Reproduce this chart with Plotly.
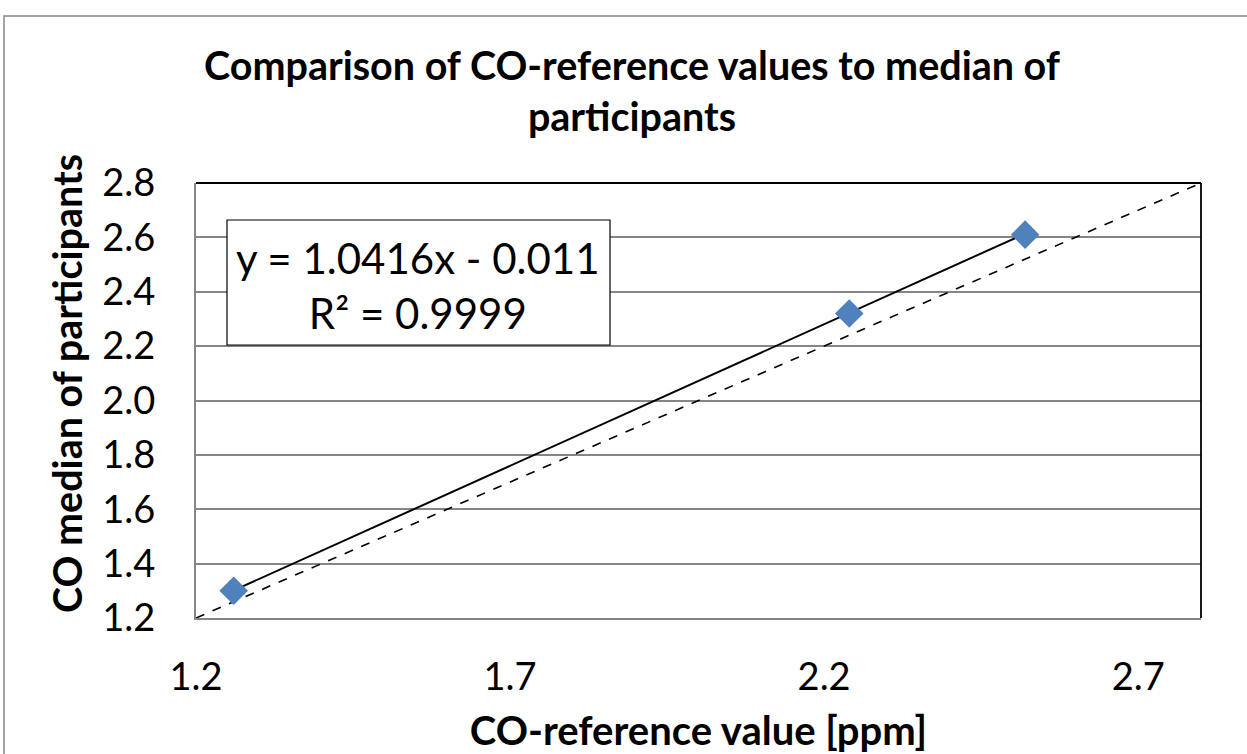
import plotly.graph_objects as go

# Data
ref_values = [1.26, 2.24, 2.52]        # CO-reference value [ppm]
median_values = [1.30, 2.32, 2.61]     # CO median of participants
fit_slope = 1.0416
fit_intercept = -0.011
fit_r2 = 0.9999
identity_line = [1.2, 2.8]
x_ticks = [1.2, 1.7, 2.2, 2.7]
y_ticks = [1.2, 1.4, 1.6, 1.8, 2.0, 2.2, 2.4, 2.6, 2.8]

W, H = 1247, 754
L, R, T, B = 196, 46, 183, 136
PW, PH = W - L - R, H - T - B

fit_x = [min(ref_values), max(ref_values)]
fit_y = [fit_slope * v + fit_intercept for v in fit_x]

fig = go.Figure()
fig.add_trace(go.Scatter(x=identity_line, y=identity_line, mode="lines",
                         line=dict(color="black", width=1.6, dash="dash"),
                         hoverinfo="skip", showlegend=False))
fig.add_trace(go.Scatter(x=fit_x, y=fit_y, mode="lines",
                         line=dict(color="black", width=2),
                         hoverinfo="skip", showlegend=False))
fig.add_trace(go.Scatter(x=ref_values, y=median_values, mode="markers",
                         marker=dict(symbol="diamond", size=22, color="#4F81BD",
                                     line=dict(width=0)),
                         showlegend=False))

font_family = "Lato, 'Open Sans', sans-serif"

fig.update_layout(
    width=W, height=H,
    margin=dict(l=L, r=R, t=T, b=B, autoexpand=False),
    paper_bgcolor="white", plot_bgcolor="white",
    font=dict(family=font_family, color="black"),
    title=dict(text="<b>Comparison of CO-reference values to median of<br>participants</b>",
               x=632 / W, xanchor="center",
               y=1 - 80 / H, yanchor="top", automargin=False,
               font=dict(size=39.5, family=font_family, color="black")),
    xaxis=dict(range=[1.2, 2.8], tickvals=x_ticks, ticktext=[f"{v:.1f}" for v in x_ticks],
               showgrid=False, zeroline=False, showline=True, linecolor="#868686",
               linewidth=2, ticks="", tickfont=dict(size=38), ticklabelstandoff=24,
               automargin=False,
               title=dict(text="<b>CO-reference value [ppm]</b>", font=dict(size=40), standoff=22)),
    yaxis=dict(range=[1.2, 2.8], tickvals=y_ticks, ticktext=[f"{v:.1f}" for v in y_ticks],
               showgrid=True, gridcolor="#868686", gridwidth=1.5, zeroline=False,
               showline=True, linecolor="#868686", linewidth=2, ticks="",
               tickfont=dict(size=38), ticklabelstandoff=31, automargin=False),
    shapes=[
        # plot-area border (top and right)
        dict(type="line", xref="paper", yref="paper", x0=0, x1=1, y0=1, y1=1,
             line=dict(color="black", width=1.8)),
        dict(type="line", xref="paper", yref="paper", x0=1, x1=1, y0=0, y1=1,
             line=dict(color="black", width=1.8)),
        # outer chart border
        dict(type="rect", xref="paper", yref="paper",
             x0=(4 - L) / PW, x1=1.2,
             y0=-0.5, y1=(H - B - 16) / PH,
             line=dict(color="#868686", width=1.5), fillcolor="rgba(0,0,0,0)", layer="below"),
        # equation box
        dict(type="rect", xref="paper", yref="paper",
             x0=(227 - L) / PW, x1=(610 - L) / PW,
             y0=(H - B - 345) / PH, y1=(H - B - 220) / PH,
             line=dict(color="black", width=1.2), fillcolor="white", layer="above"),
    ],
    annotations=[
        dict(xref="paper", yref="paper",
             x=(418 - L) / PW, y=(H - B - 285) / PH,
             xanchor="center", yanchor="middle", showarrow=False, align="center",
             text=f"y = {fit_slope}x - {abs(fit_intercept)}<br>R² = {fit_r2}",
             font=dict(size=42, family=font_family, color="black")),
        # y-axis title
        dict(xref="paper", yref="paper",
             x=(66 - L) / PW, y=(H - B - 384) / PH,
             xanchor="center", yanchor="middle", showarrow=False, textangle=-90,
             text="<b>CO median of participants</b>",
             font=dict(size=39.5, family=font_family, color="black")),
    ],
)

fig.write_html("out.html", config={"displayModeBar": False},
               post_script="document.body.style.margin='0px';")
